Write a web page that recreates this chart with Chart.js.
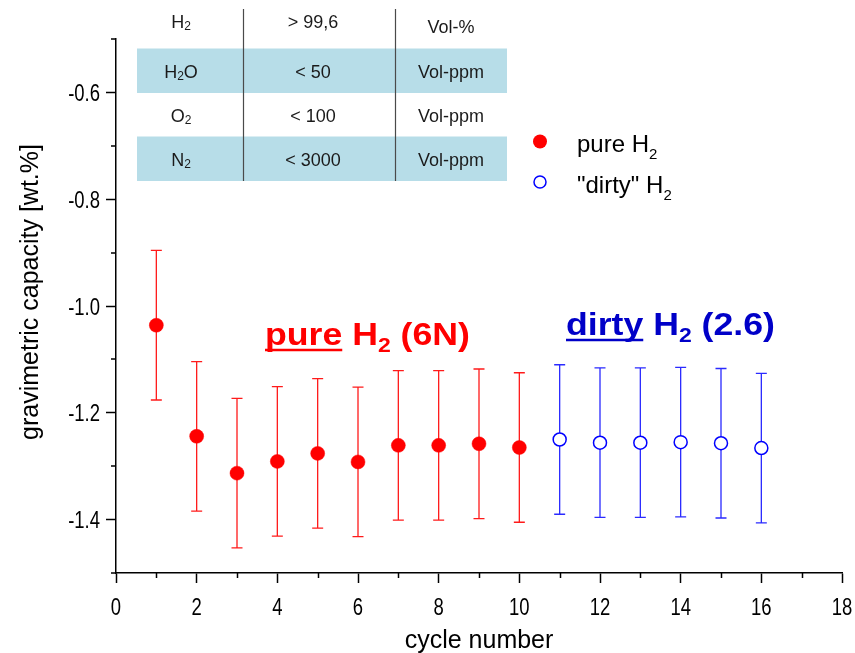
<!DOCTYPE html>
<html><head><meta charset="utf-8">
<script src="https://cdn.jsdelivr.net/npm/chart.js@4.4.0/dist/chart.umd.min.js"></script>
<style>html,body{margin:0;padding:0;background:#fff;}#wrap{width:855px;height:653px;}</style>
</head><body><div id="wrap"><canvas id="c" width="855" height="653"></canvas></div>
<script>
// ---- data ----
const pureCycles = [1, 2, 3, 4, 5, 6, 7, 8, 9, 10];
const pureValues = [-1.036, -1.244, -1.313, -1.291, -1.276, -1.292, -1.261, -1.261, -1.258, -1.265];
const pureErrors = [0.14, 0.14, 0.14, 0.14, 0.14, 0.14, 0.14, 0.14, 0.14, 0.14];
const dirtyCycles = [11, 12, 13, 14, 15, 16];
const dirtyValues = [-1.250, -1.256, -1.256, -1.255, -1.257, -1.266];
const dirtyErrors = [0.14, 0.14, 0.14, 0.14, 0.14, 0.14];
const xTicks = [0, 2, 4, 6, 8, 10, 12, 14, 16, 18];
const xMinorTicks = [1, 3, 5, 7, 9, 11, 13, 15, 17];
const yTicks = [-1.4, -1.2, -1.0, -0.8, -0.6];
const yMinorTicks = [-1.5, -1.3, -1.1, -0.9, -0.7, -0.5];
const tableGas = ['H_2', 'H_2O', 'O_2', 'N_2'];
const tableLimit = ['> 99,6', '< 50', '< 100', '< 3000'];
const tableUnit = ['Vol-%', 'Vol-ppm', 'Vol-ppm', 'Vol-ppm'];
const legendLabels = ['pure H_2', '"dirty" H_2'];
const xTitle = 'cycle number';
const yTitle = 'gravimetric capacity [wt.%]';

const FONT = "'Liberation Sans', Arial, sans-serif";
const RED = '#ff0000', BLUE = '#0000ff', DBLUE = '#0000c8';

function parseSub(str) {
  const segs = [];
  for (let i = 0; i < str.length; i++) {
    if (str[i] === '_' && i + 1 < str.length) { segs.push({ t: str[i + 1], sub: true }); i++; }
    else {
      if (segs.length && !segs[segs.length - 1].sub && !segs[segs.length - 1].u) segs[segs.length - 1].t += str[i];
      else segs.push({ t: str[i] });
    }
  }
  return segs;
}
function drawRich(ctx, segs, x, y, o) {
  const weight = o.weight || 'normal';
  const sx = o.sx || 1;
  const fontOf = s => weight + ' ' + (s.sub ? o.subSize : o.size) + 'px ' + FONT;
  let w = 0;
  segs.forEach(s => { ctx.font = fontOf(s); s.w = ctx.measureText(s.t).width; w += s.w; });
  ctx.save();
  ctx.translate(x, y);
  ctx.scale(sx, 1);
  let cx = o.align === 'center' ? -w / 2 : (o.align === 'right' ? -w : 0);
  ctx.fillStyle = o.color; ctx.strokeStyle = o.color;
  ctx.textBaseline = 'alphabetic'; ctx.textAlign = 'left';
  segs.forEach(s => {
    ctx.font = fontOf(s);
    ctx.fillText(s.t, cx, s.sub ? o.subDy : 0);
    if (s.u) { ctx.lineWidth = 2.5; ctx.beginPath(); ctx.moveTo(cx, o.uDy); ctx.lineTo(cx + s.w, o.uDy); ctx.stroke(); }
    cx += s.w;
  });
  ctx.restore();
}

const decor = {
  id: 'decor',
  beforeDatasetsDraw(chart) {
    const { ctx, scales: { x, y } } = chart;
    const bars = (cyc, val, err, col) => {
      ctx.save(); ctx.strokeStyle = col; ctx.lineWidth = 1.3;
      cyc.forEach((c, i) => {
        const px = x.getPixelForValue(c);
        const t = y.getPixelForValue(val[i] + err[i]);
        const b = y.getPixelForValue(val[i] - err[i]);
        ctx.beginPath();
        ctx.moveTo(px, t); ctx.lineTo(px, b);
        ctx.moveTo(px - 5.5, t); ctx.lineTo(px + 5.5, t);
        ctx.moveTo(px - 5.5, b); ctx.lineTo(px + 5.5, b);
        ctx.stroke();
      });
      ctx.restore();
    };
    bars(pureCycles, pureValues, pureErrors, '#ff1a1a');
    bars(dirtyCycles, dirtyValues, dirtyErrors, '#2a2aff');
  },
  afterDraw(chart) {
    const { ctx, scales: { x, y }, chartArea: a } = chart;
    ctx.save();
    // minor ticks
    ctx.strokeStyle = '#000'; ctx.lineWidth = 1.5;
    ctx.beginPath();
    xMinorTicks.forEach(v => { const p = Math.round(x.getPixelForValue(v)) + 0.5; ctx.moveTo(p, a.bottom); ctx.lineTo(p, a.bottom + 5); });
    yMinorTicks.forEach(v => { const p = Math.round(y.getPixelForValue(v)); ctx.moveTo(a.left, p); ctx.lineTo(a.left - 5, p); });
    ctx.stroke();
    // tick labels (condensed)
    xTicks.forEach(v => drawRich(ctx, [{ t: String(v) }], x.getPixelForValue(v), 615, { size: 24, color: '#000', align: 'center', sx: 0.77 }));
    yTicks.forEach(v => drawRich(ctx, [{ t: v.toFixed(1) }], 100, y.getPixelForValue(v) + 8.5, { size: 24, color: '#000', align: 'right', sx: 0.77 }));
    // axis titles
    drawRich(ctx, [{ t: xTitle }], (a.left + a.right) / 2, 648, { size: 25, color: '#000', align: 'center' });
    ctx.save(); ctx.translate(38, 292); ctx.rotate(-Math.PI / 2);
    drawRich(ctx, [{ t: yTitle }], 0, 0, { size: 25, color: '#000', align: 'center' });
    ctx.restore();
    // inset table
    const tL = 137, tR = 507, rowTop = [9, 48.5, 93, 136.5, 181];
    ctx.fillStyle = '#b7dde8';
    ctx.fillRect(tL, rowTop[1], tR - tL, rowTop[2] - rowTop[1]);
    ctx.fillRect(tL, rowTop[3], tR - tL, rowTop[4] - rowTop[3]);
    ctx.strokeStyle = '#4a4a4a'; ctx.lineWidth = 1.2;
    ctx.beginPath();
    [243.5, 395.5].forEach(cx => { ctx.moveTo(cx, rowTop[0]); ctx.lineTo(cx, rowTop[4]); });
    ctx.stroke();
    const base = [28, 78, 122, 166];
    const tOpt = { size: 18, subSize: 12, subDy: 2, color: '#1a1a1a', align: 'center' };
    tableGas.forEach((g, i) => drawRich(ctx, parseSub(g), 181, base[i], tOpt));
    tableLimit.forEach((g, i) => drawRich(ctx, [{ t: g }], 313, base[i], tOpt));
    tableUnit.forEach((g, i) => drawRich(ctx, [{ t: g }], 451, base[i] + (i === 0 ? 5 : 0), tOpt));
    // legend
    ctx.fillStyle = RED; ctx.beginPath(); ctx.arc(540, 141.5, 7, 0, Math.PI * 2); ctx.fill();
    ctx.strokeStyle = BLUE; ctx.lineWidth = 1.5; ctx.fillStyle = '#fff';
    ctx.beginPath(); ctx.arc(540, 182, 6, 0, Math.PI * 2); ctx.fill(); ctx.stroke();
    const lOpt = { size: 24, subSize: 15, subDy: 7, color: '#000', align: 'left' };
    drawRich(ctx, parseSub(legendLabels[0]), 577, 151.5, lOpt);
    drawRich(ctx, parseSub(legendLabels[1]), 577, 192.5, lOpt);
    // annotations
    const aOpt = { size: 31, subSize: 20, subDy: 7, uDy: 5, weight: 'bold', sx: 1.15, align: 'left' };
    drawRich(ctx, [{ t: 'pure', u: true }, { t: ' H' }, { t: '2', sub: true }, { t: ' (6N)' }], 265, 345, Object.assign({}, aOpt, { color: RED }));
    drawRich(ctx, [{ t: 'dirty', u: true }, { t: ' H' }, { t: '2', sub: true }, { t: ' (2.6)' }], 566, 335, Object.assign({}, aOpt, { color: DBLUE }));
    ctx.restore();
  }
};

new Chart(document.getElementById('c'), {
  type: 'scatter',
  data: {
    datasets: [
      { label: 'pure H2', data: pureCycles.map((c, i) => ({ x: c, y: pureValues[i] })),
        pointRadius: 7, pointBackgroundColor: RED, pointBorderColor: RED, pointBorderWidth: 0.5, showLine: false },
      { label: '"dirty" H2', data: dirtyCycles.map((c, i) => ({ x: c, y: dirtyValues[i] })),
        pointRadius: 6.5, pointBackgroundColor: '#fff', pointBorderColor: BLUE, pointBorderWidth: 1.5, showLine: false }
    ]
  },
  options: {
    responsive: false, animation: false, devicePixelRatio: 1,
    layout: { padding: { top: 39, right: 13, left: 0, bottom: 0 } },
    plugins: { legend: { display: false }, tooltip: { enabled: false } },
    scales: {
      x: {
        type: 'linear', min: 0, max: 18,
        afterBuildTicks: s => { s.ticks = xTicks.map(v => ({ value: v })); },
        afterFit: s => { s.height = 80; },
        grid: { drawOnChartArea: false, drawTicks: true, tickLength: 10, color: '#000', tickWidth: 1.5 },
        border: { display: true, color: '#000', width: 1.5 },
        ticks: { display: false }
      },
      y: {
        type: 'linear', min: -1.5, max: -0.5,
        afterBuildTicks: s => { s.ticks = yTicks.map(v => ({ value: v })); },
        afterFit: s => { s.width = 116; },
        grid: { drawOnChartArea: false, drawTicks: true, tickLength: 10, color: '#000', tickWidth: 1.5 },
        border: { display: true, color: '#000', width: 1.5 },
        ticks: { display: false }
      }
    }
  },
  plugins: [decor]
});
</script></body></html>
